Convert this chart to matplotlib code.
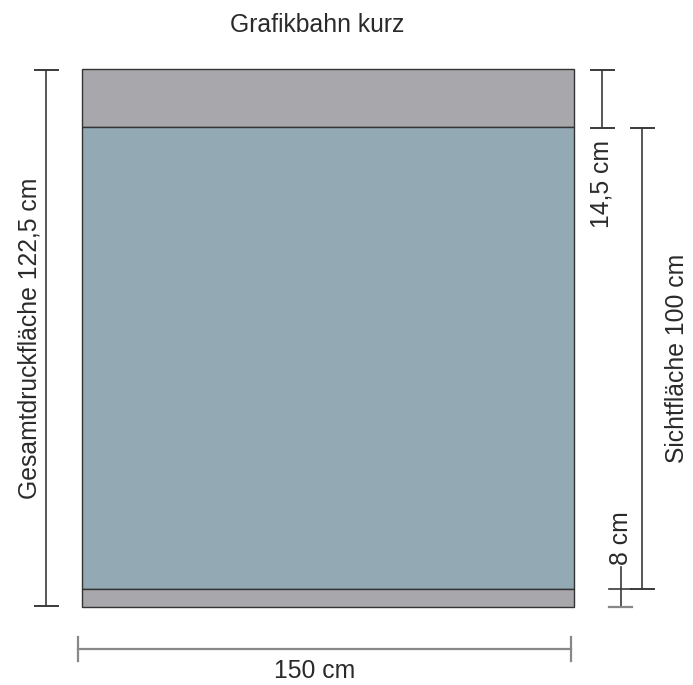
import matplotlib.pyplot as plt
from matplotlib.patches import Rectangle

plt.rcParams['font.family'] = ['Liberation Sans', 'DejaVu Sans']

title = "Grafikbahn kurz"
# bands of the banner from top to bottom (drawn heights in px, label)
band_names = ["oben", "Sichtfläche", "unten"]
band_heights = [58, 462, 18]
band_colors = ["#a8a8ac", "#93a9b4", "#a8a8ac"]
width_label = "150 cm"
total_label = "Gesamtdruckfläche 122,5 cm"
top_label = "14,5 cm"
visible_label = "Sichtfläche 100 cm"
bottom_label = "8 cm"

x0, x1 = 82, 574
y_top = 69

fig = plt.figure(figsize=(6.93, 6.85), dpi=100)
ax = fig.add_axes([0, 0, 1, 1])
ax.set_xlim(0, 693)
ax.set_ylim(685, 0)
ax.axis('off')

# banner bands
edges = [y_top]
for h in band_heights:
    edges.append(edges[-1] + h)
for i in range(len(band_heights)):
    ax.add_patch(Rectangle((x0, edges[i]), x1 - x0, band_heights[i],
                           facecolor=band_colors[i], edgecolor='#333333', lw=1))
y_bot = edges[-1]

lc = '#3a3a3a'
tc = '#2a2a2a'


def vdim(x, ya, yb, half=11.5, color=lc):
    ax.plot([x, x], [ya, yb], color=color, lw=1.2)
    ax.plot([x - half, x + half], [ya, ya], color=color, lw=1.4)
    ax.plot([x - half, x + half], [yb, yb], color=color, lw=1.4)


fs = 17.8

# total height
vdim(46, edges[0] + 1, y_bot - 1)
ax.text(30, (edges[0] + y_bot) / 2, total_label, rotation=90, ha='center',
        va='center', fontsize=fs, color=tc)

# top band
vdim(602, edges[0] + 1, edges[1] + 1)
ax.text(602, 184, top_label, rotation=90, ha='center', va='center',
        fontsize=fs, color=tc)

# visible area
vdim(642, edges[1] + 1, edges[2])
ax.text(677, (edges[1] + edges[2]) / 2, visible_label, rotation=90,
        ha='center', va='center', fontsize=fs, color=tc)

# bottom band
ax.plot([621, 621], [567, y_bot], color=lc, lw=1.2)
ax.plot([609, 632], [edges[2], edges[2]], color=lc, lw=1.2)
ax.plot([609, 632], [y_bot, y_bot], color='#888888', lw=1.6)
ax.text(621, 538, bottom_label, rotation=90, ha='center', va='center',
        fontsize=fs, color=tc)

# width
ax.plot([78, 571], [649, 649], color='#888888', lw=1.6)
ax.plot([78, 78], [637, 661], color='#888888', lw=1.6)
ax.plot([571, 571], [637, 661], color='#888888', lw=1.6)
ax.text(315, 671, width_label, ha='center', va='center', fontsize=fs,
        color=tc)

ax.text(317, 25, title, ha='center', va='center', fontsize=fs,
        color=tc)

fig.savefig('out.png', dpi=100)
